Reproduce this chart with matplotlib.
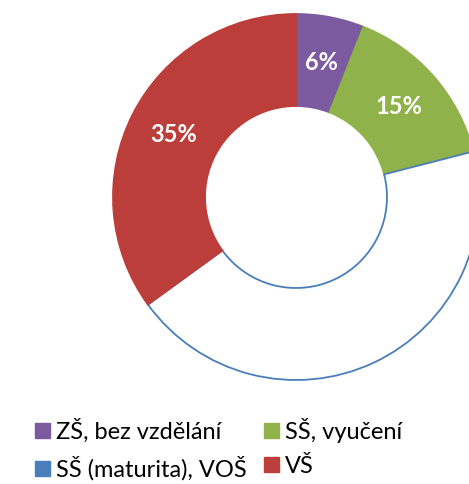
import matplotlib.pyplot as plt
from matplotlib.patches import Patch

# data
labels = ['ZŠ, bez vzdělání', 'SŠ, vyučení', 'SŠ (maturita), VOŠ', 'VŠ']
values = [6, 15, 44, 35]
show_pct = [True, True, False, True]
fill_colors = ['#7b5aa0', '#8fb24a', 'white', '#bc3e3b']
edge_colors = ['#7b5aa0', '#8fb24a', '#4a7ebb', '#bc3e3b']
legend_colors = ['#7b5aa0', '#8fb24a', '#4a7ebb', '#bc3e3b']

plt.rcParams['font.family'] = ['Lato', 'DejaVu Sans']

fig = plt.figure(figsize=(4.69, 4.84), dpi=100)
ax = fig.add_axes([0, 0, 1, 1])

wedges, texts, autotexts = ax.pie(
    values, colors=fill_colors, startangle=90, counterclock=False,
    center=(296, 287), radius=183,
    wedgeprops=dict(width=92, linewidth=1.3),
    autopct='%d%%', pctdistance=0.75,
    textprops=dict(color='white', fontsize=17, fontweight='bold'))

for w, ec in zip(wedges, edge_colors):
    w.set_edgecolor(ec)
for t, s in zip(autotexts, show_pct):
    t.set_visible(s)

ax.set_xlim(0, 469)
ax.set_ylim(0, 484)
ax.set_aspect('equal')
ax.axis('off')

# legend fills column by column, so order the entries to read row by row
order = [0, 2, 1, 3]
handles = [Patch(facecolor=legend_colors[i], edgecolor=legend_colors[i]) for i in order]
fig.legend(handles, [labels[i] for i in order], ncol=2, loc='upper left',
           bbox_to_anchor=(0.03, 0.18), frameon=False,
           fontsize=17, handlelength=0.62, handleheight=0.62,
           handletextpad=0.25, columnspacing=0.75, labelspacing=0.55)

fig.savefig('out.png', dpi=100)
